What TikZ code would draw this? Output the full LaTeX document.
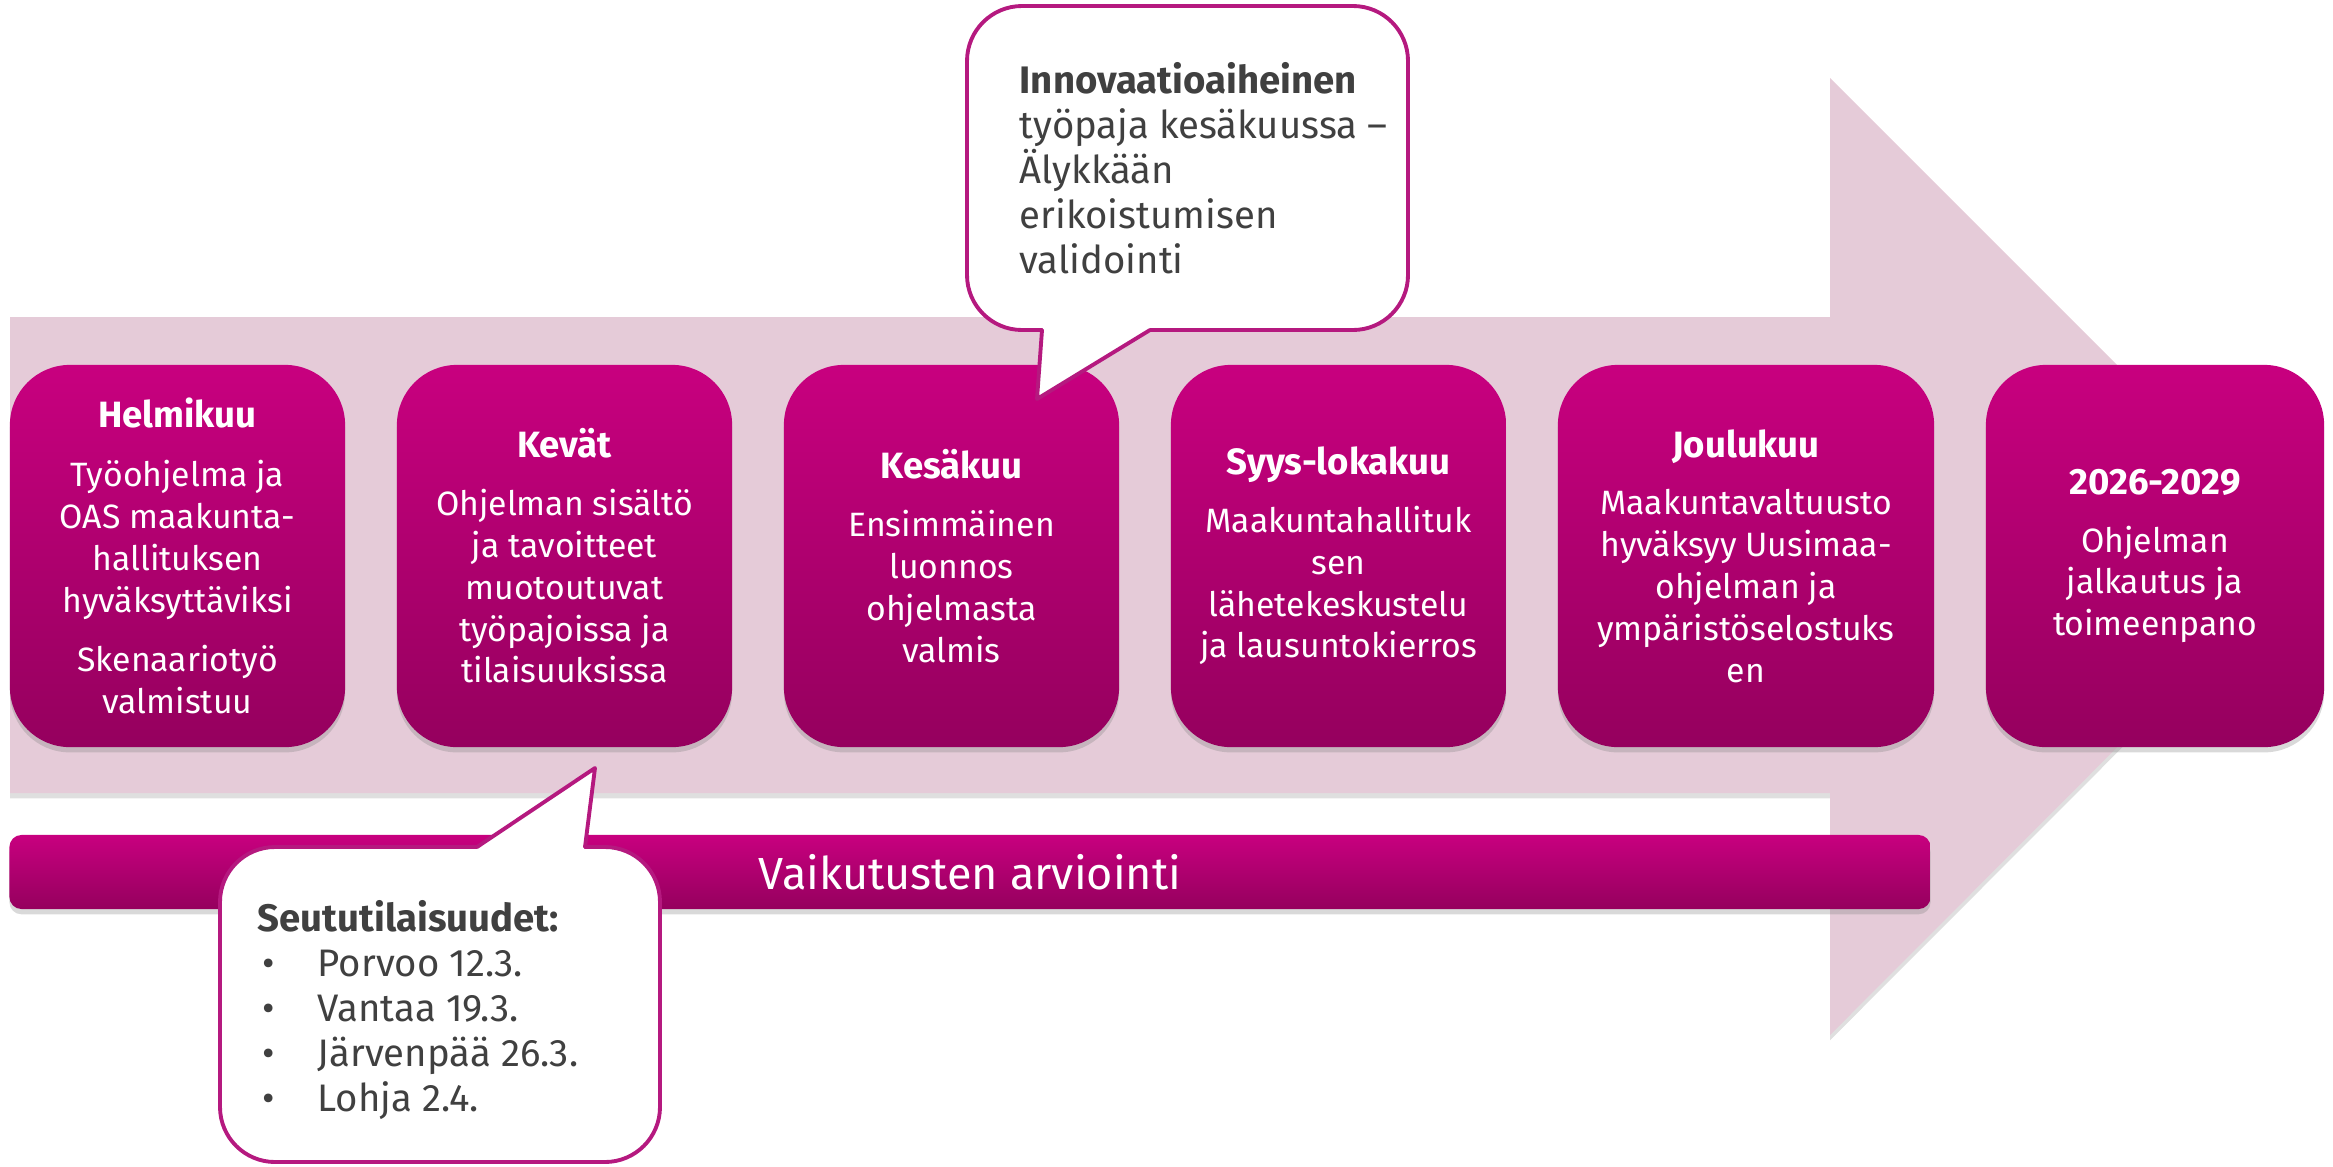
\documentclass[tikz,border=0pt]{standalone}
\usepackage{fontspec}
\setmainfont{Fira Sans}
\usetikzlibrary{shadows}

\definecolor{arrowpink}{HTML}{E5CBD8}
\definecolor{magtop}{HTML}{C8007F}
\definecolor{magbot}{HTML}{95005E}
\definecolor{bubbleline}{HTML}{B5197F}
\definecolor{bubbletext}{HTML}{404040}

\newcommand{\phasehead}[1]{{\fontsize{10.4}{11.9}\selectfont\bfseries #1}}

\tikzset{
  phase/.style={rounded corners=0.6cm, top color=magtop, bottom color=magbot,
    text=white, align=center, inner sep=0pt, minimum height=3.82cm,
    font=\fontsize{9.6}{11.9}\selectfont,
    drop shadow={shadow xshift=0pt, shadow yshift=-1.5pt, opacity=0.3}},
  band/.style={rounded corners=0.12cm, top color=magtop, bottom color=magbot,
    text=white, inner sep=0pt, minimum width=19.2cm, minimum height=0.74cm,
    font=\fontsize{12.8}{15}\selectfont,
    drop shadow={shadow xshift=0pt, shadow yshift=-1.5pt, opacity=0.3}},
  bubble/.style={draw=bubbleline, line width=1.1pt, line cap=round, line join=round},
  bubbletxt/.style={text=bubbletext, align=left, inner sep=0pt, anchor=north west,
    font=\fontsize{10.9}{12.8}\selectfont},
}

\begin{document}
\begin{tikzpicture}[x=0.01cm,y=-0.01cm]
  \useasboundingbox (0,0) rectangle (2333,1166);

  \fill[arrowpink, drop shadow={shadow xshift=0pt, shadow yshift=-1.5pt, opacity=0.25}]
    (10,317) -- (1830,317) -- (1830,78) -- (2308,556) -- (1830,1035) -- (1830,793) -- (10,793) -- cycle;

  \node[band] (V) at (970,872) {Vaikutusten arviointi};

  \node[phase, minimum width=3.35cm] (M1) at (177.5,556)
    {\phasehead{Helmikuu}\\[5pt]Työohjelma ja\\OAS maakunta-\\hallituksen\\hyväksyttäviksi\\[5pt]Skenaariotyö\\valmistuu};
  \node[phase, minimum width=3.35cm] (M2) at (564.5,556)
    {\phasehead{Kevät}\\[4.5pt]Ohjelman sisältö\\ja tavoitteet\\muotoutuvat\\työpajoissa ja\\tilaisuuksissa};
  \node[phase, minimum width=3.35cm] (M3) at (951.5,556)
    {\phasehead{Kesäkuu}\\[4.5pt]Ensimmäinen\\luonnos\\ohjelmasta\\valmis};
  \node[phase, minimum width=3.35cm] (M4) at (1338.5,556)
    {\phasehead{Syys-lokakuu}\\[4.5pt]Maakuntahallituk\\sen\\lähetekeskustelu\\ja lausuntokierros};
  \node[phase, minimum width=3.76cm] (M5) at (1746,556)
    {\phasehead{Joulukuu}\\[4.5pt]Maakuntavaltuusto\\hyväksyy Uusimaa-\\ohjelman ja\\ympäristöselostuks\\en};
  \node[phase, minimum width=3.38cm] (M6) at (2155,556)
    {\phasehead{2026-2029}\\[4.5pt]Ohjelman\\jalkautus ja\\toimeenpano};

  \fill[white, rounded corners=0.55cm] (967,6) rectangle (1408,330);
  \fill[white] (1042,330) -- (1037,399) -- (1150,330) -- cycle;
  \draw[bubble, rounded corners=0.55cm] (1042,330) -- (967,330) -- (967,6) -- (1408,6) -- (1408,330) -- (1150,330);
  \draw[bubble] (1042,330) -- (1037,399) -- (1150,330);
  \node[bubbletxt] (C1) at (1019,62)
    {\textbf{Innovaatioaiheinen}\\työpaja kesäkuussa –\\Älykkään\\erikoistumisen\\validointi};

  \fill[white, rounded corners=0.55cm] (220,847) rectangle (660,1162);
  \fill[white] (477,847) -- (595,768) -- (585,847) -- cycle;
  \draw[bubble, rounded corners=0.55cm] (585,847) -- (660,847) -- (660,1162) -- (220,1162) -- (220,847) -- (477,847);
  \draw[bubble] (477,847) -- (595,768) -- (585,847);
  \node[bubbletxt] (C2) at (257,900)
    {\textbf{Seututilaisuudet:}\\
     \hspace*{0.05cm}\makebox[0.55cm][l]{•}Porvoo 12.3.\\
     \hspace*{0.05cm}\makebox[0.55cm][l]{•}Vantaa 19.3.\\
     \hspace*{0.05cm}\makebox[0.55cm][l]{•}Järvenpää 26.3.\\
     \hspace*{0.05cm}\makebox[0.55cm][l]{•}Lohja 2.4.};
\end{tikzpicture}
\end{document}
